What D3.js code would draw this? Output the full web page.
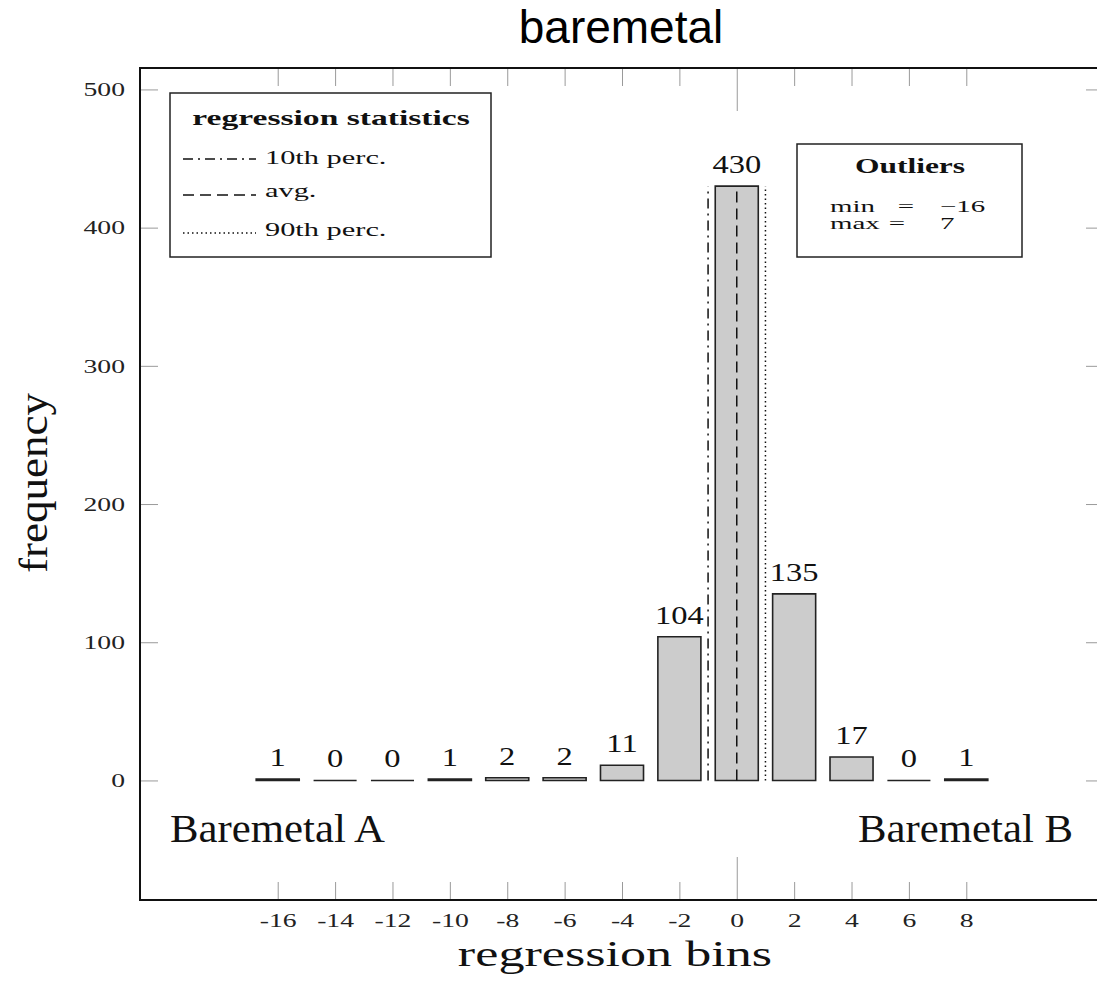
<!DOCTYPE html>
<html lang="en">
<head>
  <meta charset="utf-8">
  <title>baremetal</title>
  <style>
    body { margin: 0; background: #fff; }
    svg { display: block; }
  </style>
</head>
<body>
  <svg class="canvas" width="1097" height="995"></svg>

  <script src="https://cdn.jsdelivr.net/npm/d3@7"></script>
  <script>

// data
const bins   = [-16, -14, -12, -10, -8, -6, -4, -2, 0, 2, 4, 6, 8];
const counts = [1, 0, 0, 1, 2, 2, 11, 104, 430, 135, 17, 0, 1];
const yTicks = [0, 100, 200, 300, 400, 500];

const statNames  = ["10th perc.", "avg.", "90th perc."];
const statValues = [-1.0, 0.0, 1.0];

const outlierNames  = ["min", "max"];
const outlierValues = ["\u221216", "7"];

const serif = "'Liberation Serif', 'Times New Roman', serif";
const dashes = ["10,5,2,5", "11,6", "1.5,3"];   // dash-dot, dashed, dotted

let svg = d3.select(".canvas");

let x = d3.scaleLinear().domain([-20.8, 12.8]).range([140, 1104]);
let y = d3.scaleLinear().domain([-86.5, 515.5]).range([900, 68]);

// text helper: latex small sizes are wide, so stretch horizontally a bit
function label(g, px, py, str, size, sx, anchor, weight) {
  return g.append("text")
    .attr("transform", "translate(" + px + "," + py + ") scale(" + sx + ",1)")
    .attr("text-anchor", anchor || "start")
    .attr("font-family", serif)
    .attr("font-size", size)
    .attr("font-weight", weight || "normal")
    .attr("fill", "#111")
    .text(str);
}

// title
svg.append("text")
  .attr("x", 621).attr("y", 43)
  .attr("text-anchor", "middle")
  .attr("font-family", "'Liberation Sans', Arial, sans-serif")
  .attr("font-size", 46)
  .text("baremetal");

/**
  axes (ticks point inwards, mirrored on top / right)
**/
const tickSx = 1.42;

let gBottom = svg.append("g")
  .attr("transform", "translate(0," + y.range()[0] + ")")
  .call(d3.axisBottom(x).tickValues(bins).tickSize(-18).tickPadding(13).tickFormat(function(d) { return String(d); }));

let gTop = svg.append("g")
  .attr("transform", "translate(0," + y.range()[1] + ")")
  .call(d3.axisTop(x).tickValues(bins).tickSize(-18).tickFormat(""));

let gLeft = svg.append("g")
  .attr("transform", "translate(" + x.range()[0] + ",0)")
  .call(d3.axisLeft(y).tickValues(yTicks).tickSize(-18).tickFormat(function(d) { return String(d); }));

let gRight = svg.append("g")
  .attr("transform", "translate(" + x.range()[1] + ",0)")
  .call(d3.axisRight(y).tickValues(yTicks).tickSize(-18).tickFormat(""));

[gBottom, gTop, gLeft, gRight].forEach(function(g) {
  g.select(".domain").remove();
  g.selectAll(".tick line").attr("stroke", "#9a9a9a").attr("stroke-width", 1);
});

// the zero bin gets a longer tick top and bottom
gBottom.selectAll(".tick line").filter(function(d) { return d === 0; }).attr("y2", -43);
gTop.selectAll(".tick line").filter(function(d) { return d === 0; }).attr("y2", 43);

gBottom.selectAll("text")
  .attr("font-family", serif).attr("font-size", 19.5).attr("fill", "#222")
  .attr("transform", "scale(" + tickSx + ",1)");

gLeft.selectAll("text")
  .attr("font-family", serif).attr("font-size", 19.5).attr("fill", "#222")
  .attr("x", -15 / tickSx)
  .attr("transform", "scale(" + tickSx + ",1)");

/**
  bars
**/
let barW = 0.75;

svg.append("g").selectAll("path").data(bins)
  .enter().append("path")
    .attr("d", function(d, i) {
      let x0 = x(d - barW), x1 = x(d + barW), y0 = y(0), y1 = y(counts[i]);
      return "M" + x0 + "," + y0 + "H" + x1 + "V" + y1 + "H" + x0 + "Z";
    })
    .attr("fill", "#cccccc")
    .attr("stroke", "#222")
    .attr("stroke-width", 1.6);

let gVals = svg.append("g");
bins.forEach(function(d, i) {
  label(gVals, x(d), y(counts[i]) - 13, counts[i], 26, 1.25, "middle");
});

/**
  regression statistics lines
**/
svg.append("g").selectAll("line").data(statValues)
  .enter().append("line")
    .attr("x1", function(d) { return x(d); })
    .attr("x2", function(d) { return x(d); })
    .attr("y1", y(0))
    .attr("y2", y(d3.max(counts)))
    .attr("stroke", "#111")
    .attr("stroke-width", 1.5)
    .attr("stroke-dasharray", function(d, i) { return dashes[i]; });

// frame
svg.append("rect")
  .attr("x", x.range()[0]).attr("y", y.range()[1])
  .attr("width", x.range()[1] - x.range()[0])
  .attr("height", y.range()[0] - y.range()[1])
  .attr("fill", "none")
  .attr("stroke", "#111")
  .attr("stroke-width", 2);

/**
  legend box
**/
let leg = svg.append("g");
leg.append("rect")
  .attr("x", 170).attr("y", 93).attr("width", 321).attr("height", 164)
  .attr("fill", "#fff").attr("stroke", "#222").attr("stroke-width", 1.5);
label(leg, 331, 125, "regression statistics", 21, 1.6, "middle", "bold");

const legLineY = [159, 195, 233];
const legTextY = [164, 197, 236];
statNames.forEach(function(name, i) {
  leg.append("line")
    .attr("x1", 183).attr("x2", 256)
    .attr("y1", legLineY[i]).attr("y2", legLineY[i])
    .attr("stroke", "#111").attr("stroke-width", 1.5)
    .attr("stroke-dasharray", dashes[i]);
  label(leg, 265, legTextY[i], name, 19, 1.6, "start");
});

/**
  outliers box
**/
let out = svg.append("g");
out.append("rect")
  .attr("x", 797).attr("y", 144).attr("width", 225).attr("height", 113)
  .attr("fill", "#fff").attr("stroke", "#222").attr("stroke-width", 1.5);
label(out, 910, 173, "Outliers", 21, 1.5, "middle", "bold");

const outY  = [212, 229];
const outEq = [906, 897];
outlierNames.forEach(function(name, i) {
  label(out, 830, outY[i], name, 17, 1.7, "start");
  label(out, outEq[i], outY[i], "=", 17, 1.7, "middle");
  label(out, 940, outY[i], outlierValues[i], 17, 1.7, "start");
});

/**
  corner notes and axis titles
**/
label(svg, 170, 842, "Baremetal A", 40, 1.07, "start");
label(svg, 1073, 842, "Baremetal B", 40, 1.07, "end");

svg.append("text")
  .attr("transform", "translate(47,483) rotate(-90) scale(1.1,1)")
  .attr("text-anchor", "middle")
  .attr("font-family", serif)
  .attr("font-size", 41)
  .attr("fill", "#111")
  .text("frequency");

label(svg, 615, 966, "regression bins", 35, 1.49, "middle");

  </script>
</body>
</html>
